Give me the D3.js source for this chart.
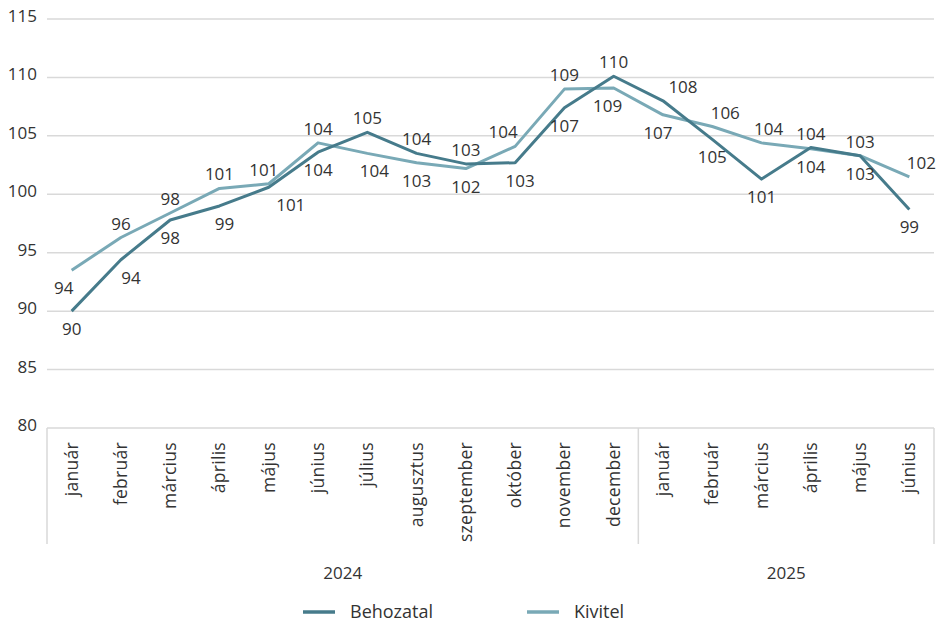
<!DOCTYPE html>
<html><head><meta charset="utf-8">
<script src="https://cdn.jsdelivr.net/npm/d3@7"></script>
<style>
body{margin:0;background:#fff;}
svg{font-family:"Open Sans",sans-serif;}
text{fill:#333;}
</style></head>
<body><svg id="c" width="938" height="625"></svg>
<script>
const months = ["január","február","március","április","május","június","július","augusztus","szeptember","október","november","december","január","február","március","április","május","június"];
const years = ["2024","2025"];
const yearSpans = [12, 6];
const behozatal = [90.0,94.4,97.8,99.0,100.6,103.6,105.3,103.5,102.6,102.7,107.4,110.1,108.0,104.7,101.3,104.0,103.3,98.7];
const kivitel   = [93.5,96.3,98.4,100.5,100.9,104.4,103.5,102.7,102.2,104.1,109.0,109.1,106.8,105.8,104.4,103.9,103.3,101.5];
const yTicks = [80,85,90,95,100,105,110,115];
// label placement: t = above, b = below (with horizontal nudge)
const behSide = ["b","b","b","b","b","b","t","t","t","b","b","t","t","b","b","t","b","b"];
const behNudge = [0,10,0,5,22,0,0,0,0,5,0,0,20,0,0,0,0,0];
const kivSide = ["b","t","t","t","t","t","b","b","b","t","t","b","b","t","t","b","t","t"];
const kivNudge = [-8,0,0,0,-5,0,7,0,0,-12,0,-6,-5,13,7,0,0,12];

const svg = d3.select("#c");
const x0 = 47, x1 = 934, yTop = 19, yBot = 428;
const x = d3.scaleBand().domain(d3.range(months.length)).range([x0, x1]);
const y = d3.scaleLinear().domain([80,115]).range([yBot, yTop]);
const cx = i => x(i) + x.bandwidth()/2;

// gridlines
svg.append("g").selectAll("line").data(yTicks).join("line")
  .attr("x1", x0).attr("x2", x1).attr("y1", d=>y(d)).attr("y2", d=>y(d))
  .attr("stroke", "#d9d9d9").attr("stroke-width", 1.5);
// y labels
svg.append("g").selectAll("text").data(yTicks).join("text")
  .attr("x", 37).attr("y", d=>y(d)+3).attr("text-anchor","end")
  .style("font-size","17px").text(d=>d);

// x axis separators
const sepIdx = [0, yearSpans[0], months.length];
svg.append("g").selectAll("line").data(sepIdx).join("line")
  .attr("x1", d=> d===months.length ? x1 : x(d)).attr("x2", d=> d===months.length ? x1 : x(d))
  .attr("y1", yBot).attr("y2", 544).attr("stroke","#d9d9d9").attr("stroke-width",1.5);

// month labels
svg.append("g").selectAll("text").data(months).join("text")
  .attr("transform",(d,i)=>`translate(${cx(i)+6},442) rotate(-90)`)
  .attr("text-anchor","end").style("font-size","17.5px").style("letter-spacing","0.3px").text(d=>d);

// year labels
let start = 0;
years.forEach((yr,k)=>{
  const a = x(start), b = (start+yearSpans[k] >= months.length) ? x1 : x(start+yearSpans[k]);
  svg.append("text").attr("x",(a+b)/2).attr("y",579).attr("text-anchor","middle")
    .style("font-size","17px").text(yr);
  start += yearSpans[k];
});

const colBeh = "#467b8b", colKiv = "#79a9b6";
const line = d3.line().x((d,i)=>cx(i)).y(d=>y(d));
svg.append("path").datum(kivitel).attr("d",line).attr("fill","none").attr("stroke",colKiv).attr("stroke-width",3).attr("stroke-linejoin","round");
svg.append("path").datum(behozatal).attr("d",line).attr("fill","none").attr("stroke",colBeh).attr("stroke-width",3).attr("stroke-linejoin","round");

function labels(data, side, nudge){
  svg.append("g").selectAll("text").data(data).join("text")
    .attr("x",(d,i)=>cx(i)+nudge[i])
    .attr("y",(d,i)=> side[i]==="t" ? y(d)-8 : y(d)+24)
    .attr("text-anchor","middle").style("font-size","17px")
    .text(d=>Math.round(d));
}
labels(behozatal, behSide, behNudge);
labels(kivitel, kivSide, kivNudge);

// legend
const leg = [{n:"Behozatal",c:colBeh,x:303},{n:"Kivitel",c:colKiv,x:527}];
leg.forEach(l=>{
  svg.append("line").attr("x1",l.x).attr("x2",l.x+32).attr("y1",612).attr("y2",612)
    .attr("stroke",l.c).attr("stroke-width",3.5);
  svg.append("text").attr("x",l.x+47).attr("y",618).style("font-size","18px").text(l.n);
});
</script></body></html>
